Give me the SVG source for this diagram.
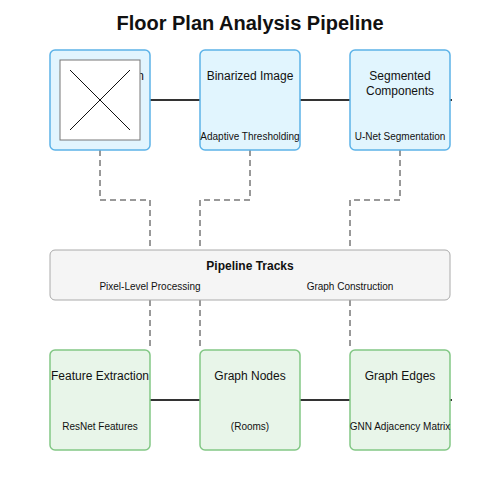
<svg xmlns="http://www.w3.org/2000/svg" width="500" height="500" viewBox="0 0 500 500">
<style>
text{font-family:"Liberation Sans",Arial,sans-serif;fill:#111;text-anchor:middle}
.title{font-size:20px;font-weight:bold}
.lbl{font-size:12px}
.sub{font-size:10px}
.blue{fill:#e1f5fe;stroke:#5cb3e8;stroke-width:1.5}
.green{fill:#e8f5e9;stroke:#82c785;stroke-width:1.5}
.edge{stroke:#333;stroke-width:2;fill:none}
.dash{stroke:#999;stroke-width:2;fill:none;stroke-dasharray:6,4}
</style>
<rect width="500" height="500" fill="#fff"/>
<text class="title" x="250" y="30">Floor Plan Analysis Pipeline</text>
<g id="connectors">
<line class="edge" x1="150" y1="100" x2="200" y2="100"/>
<line class="edge" x1="300" y1="100" x2="350" y2="100"/>
<line class="edge" x1="450" y1="100" x2="452" y2="100"/>
<line class="edge" x1="150" y1="400" x2="200" y2="400"/>
<line class="edge" x1="300" y1="400" x2="350" y2="400"/>
<line class="edge" x1="450" y1="400" x2="452" y2="400"/>
<path class="dash" d="M100 150 V200 H150 V250"/>
<path class="dash" d="M250 150 V200 H200 V250"/>
<path class="dash" d="M400 150 V200 H350 V250"/>
<path class="dash" d="M150 300 V350"/>
<path class="dash" d="M200 300 V350"/>
<path class="dash" d="M350 300 V350"/>
</g>
<g id="input">
<rect class="blue" x="50" y="50" width="100" height="100" rx="5"/>
<text class="lbl" x="101.5" y="80">Input Floor Plan</text>
<rect x="60" y="60" width="80" height="80" fill="#fff" stroke="#777" stroke-width="1"/>
<line x1="70" y1="70" x2="130" y2="130" stroke="#111" stroke-width="1"/>
<line x1="130" y1="70" x2="70" y2="130" stroke="#111" stroke-width="1"/>
</g>
<g id="binarized">
<rect class="blue" x="200" y="50" width="100" height="100" rx="5"/>
<text class="lbl" x="250" y="80">Binarized Image</text>
<text class="sub" x="250" y="140">Adaptive Thresholding</text>
</g>
<g id="segmented">
<rect class="blue" x="350" y="50" width="100" height="100" rx="5"/>
<text class="lbl" x="400" y="80">Segmented</text>
<text class="lbl" x="400" y="95">Components</text>
<text class="sub" x="400" y="140">U-Net Segmentation</text>
</g>
<g id="tracks">
<rect x="50" y="250" width="400" height="50" rx="5" fill="#f5f5f5" stroke="#aaa" stroke-width="1"/>
<text class="lbl" x="250" y="270" font-weight="bold">Pipeline Tracks</text>
<text class="sub" x="150" y="290">Pixel-Level Processing</text>
<text class="sub" x="350" y="290">Graph Construction</text>
</g>
<g id="features">
<rect class="green" x="50" y="350" width="100" height="100" rx="5"/>
<text class="lbl" x="100" y="380">Feature Extraction</text>
<text class="sub" x="100" y="430">ResNet Features</text>
</g>
<g id="nodes">
<rect class="green" x="200" y="350" width="100" height="100" rx="5"/>
<text class="lbl" x="250" y="380">Graph Nodes</text>
<text class="sub" x="250" y="430">(Rooms)</text>
</g>
<g id="edges">
<rect class="green" x="350" y="350" width="100" height="100" rx="5"/>
<text class="lbl" x="400" y="380">Graph Edges</text>
<text class="sub" x="400" y="430">GNN Adjacency Matrix</text>
</g>
</svg>
